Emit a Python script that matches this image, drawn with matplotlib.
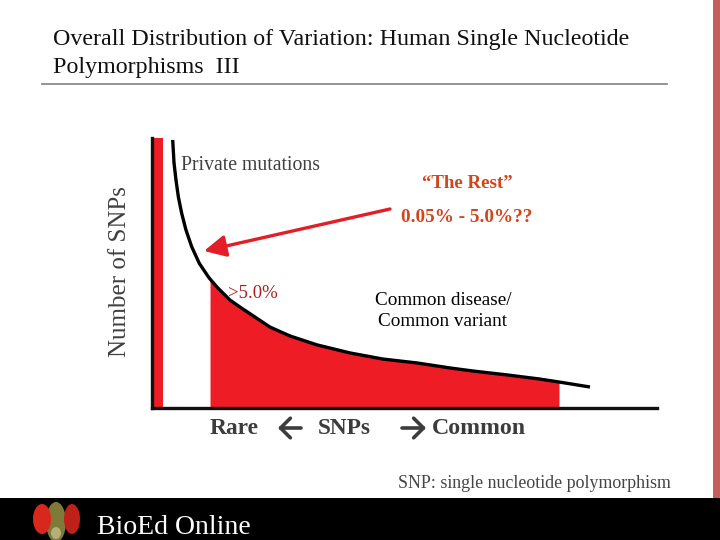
import numpy as np
import matplotlib
matplotlib.use('Agg')
import matplotlib.pyplot as plt
from matplotlib.patches import Rectangle, Ellipse, FancyArrowPatch

plt.rcParams['font.family'] = ['Liberation Serif', 'DejaVu Sans']

# schematic allele frequency spectrum (x: rare -> common, y: number of SNPs)
freq = [4.10, 4.36, 4.75, 5.21, 5.88, 6.73, 7.86, 9.37, 11.15, 11.49, 12.81, 15.45,
        17.43, 20.40, 23.37, 27.33, 32.67, 39.21, 45.74, 52.48, 59.01, 63.56, 70.30,
        76.83, 80.59, 86.73]
n_snps = [96.4, 88.1, 82.0, 76.0, 70.0, 64.0, 58.0, 52.0, 47.2, 46.4, 43.6, 38.8,
          36.3, 32.7, 29.1, 25.9, 22.7, 19.8, 17.6, 16.2, 14.4, 13.3, 11.9,
          10.4, 9.35, 7.55]
private_bar = 97.1
common_start = 11.49
common_end = 80.59

title_lines = ['Overall Distribution of Variation: Human Single Nucleotide',
               'Polymorphisms  III']
ylabel = 'Number of SNPs'

W, H = 720, 540
fig = plt.figure(figsize=(7.2, 5.4), dpi=100)

def fx(x):
    return x / W

def fy(y):
    return 1 - y / H

# slide decoration layer in pixel coords
bg = fig.add_axes([0, 0, 1, 1], zorder=0)
bg.set_xlim(0, W)
bg.set_ylim(H, 0)
bg.axis('off')
bg.add_patch(Rectangle((713, 0), 7, 498, color='#c55f5f', lw=0))
bg.add_patch(Rectangle((0, 498), W, 42, color='black', lw=0))
bg.plot([42, 667], [84, 84], color='#808080', lw=1.2)
# little fly head logo
bg.add_patch(Ellipse((56, 522), 20, 40, color='#7d7a3a', lw=0))
bg.add_patch(Ellipse((42, 519), 18, 30, color='#d8281e', lw=0))
bg.add_patch(Ellipse((72, 519), 16, 30, color='#c0201a', lw=0))
bg.add_patch(Ellipse((56, 533), 10, 12, color='#b5ad7a', lw=0))

fig.text(fx(53), fy(40), title_lines[0], fontsize=17.3, color='#111111', va='center')
fig.text(fx(53), fy(67), title_lines[1], fontsize=17.3, color='#111111', va='center')
fig.text(fx(97), fy(527), 'BioEd Online', fontsize=20, color='white', va='center')
fig.text(fx(671), fy(484), 'SNP: single nucleotide polymorphism', fontsize=12.9,
         color='#444444', ha='right', va='center')

# chart
ax = fig.add_axes([fx(152), fy(408), fx(657) - fx(152), fy(138) - fy(408)], zorder=2)
ax.patch.set_alpha(0)
ax.set_xlim(0, 100)
ax.set_ylim(0, private_bar)
for s in ['top', 'right']:
    ax.spines[s].set_visible(False)
for s in ['left', 'bottom']:
    ax.spines[s].set_linewidth(2.4)
    ax.spines[s].set_color('#111111')
ax.set_xticks([])
ax.set_yticks([])

ax.bar([1.1], [private_bar], width=2.2, color='#ee1c24', lw=0)
x = np.array(freq)
y = np.array(n_snps)
mask = (x >= common_start) & (x <= common_end)
ax.fill_between(x[mask], 0, y[mask], color='#ee1c24', lw=0)
ax.plot(x, y, color='black', lw=2.4, clip_on=False, solid_capstyle='butt',
        solid_joinstyle='round')

fig.text(fx(120), fy(272), ylabel, rotation=90, fontsize=18, color='#404040',
         ha='center', va='center')

fig.text(fx(181), fy(166), 'Private mutations', fontsize=14.2, color='#404040', va='center')
fig.text(fx(467), fy(184), '\u201cThe Rest\u201d', fontsize=13.6, color='#d2441c',
         weight='bold', ha='center', va='center')
fig.text(fx(467), fy(218), '0.05% - 5.0%??', fontsize=13.8, color='#d2441c',
         weight='bold', ha='center', va='center')
fig.text(fx(228), fy(294), '>5.0%', fontsize=13.5, color='#a82020', va='center')
fig.text(fx(443), fy(311), 'Common disease/\nCommon variant', fontsize=13.8,
         color='black', ha='center', va='center', linespacing=1.25)

arrow = FancyArrowPatch((fx(390), fy(209)), (fx(204), fy(251)), transform=fig.transFigure,
                        arrowstyle='-|>,head_length=6,head_width=3', color='#e41e26',
                        lw=2.4, mutation_scale=2.2, shrinkA=0, shrinkB=0)
fig.patches.append(arrow)

axis_color = '#3c3c3c'
fig.text(fx(210), fy(428), 'Rare', fontsize=16.8, color=axis_color, weight='bold', va='center')
fig.text(fx(318), fy(428), 'SNPs', fontsize=16.8, color=axis_color, weight='bold', va='center')
fig.text(fx(432), fy(428), 'Common', fontsize=17.2, color=axis_color, weight='bold', va='center')
for start, end in [(301, 278), (402, 426)]:
    fig.patches.append(FancyArrowPatch((fx(start), fy(428)), (fx(end), fy(428)),
                                       transform=fig.transFigure,
                                       arrowstyle='->,head_length=3.2,head_width=3.2',
                                       color=axis_color, lw=2.6, mutation_scale=2.2,
                                       shrinkA=0, shrinkB=0))

fig.savefig('out.png', dpi=100)
